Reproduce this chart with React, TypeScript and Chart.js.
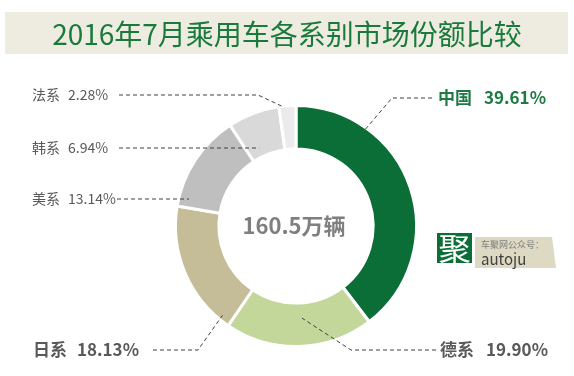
import React, { useEffect, useRef } from "react";
import { Chart, registerables } from "chart.js";

Chart.register(...registerables);

const TITLE = "2016年7月乘用车各系别市场份额比较";
const CATEGORIES = ["中国", "德系", "日系", "美系", "韩系", "法系"];
const SHARES = [39.61, 19.9, 18.13, 13.14, 6.94, 2.28];
const CENTER_TEXT = "160.5万辆";
const COLORS = ["#0b6e37", "#c4d79b", "#c4bd97", "#bfbfbf", "#d9d9d9", "#ebebeb"];

// label layout: text position, leader line elbow, anchor inside slice (t along arc, r fraction across ring)
const LABEL_LAYOUT = [
  { x: 438, y: 98, valueX: 484, bold: true, color: "#1d7a42", lineX: 432, elbowX: 392, t: 0.25, rf: 0.97 },
  { x: 440, y: 350, valueX: 486, bold: true, color: "#595959", lineX: 436, elbowX: 351, t: 0.47, rf: 0.35 },
  { x: 33, y: 350, valueX: 77, bold: true, color: "#595959", lineX: 153, elbowX: 198, t: 0.08, rf: 0.89 },
  { x: 32, y: 199, valueX: 68, bold: false, color: "#595959", lineX: 117, elbowX: null, t: 0.11, rf: 0.77 },
  { x: 32, y: 148, valueX: 68, bold: false, color: "#595959", lineX: 119, elbowX: null, t: 0.31, rf: 0.19 },
  { x: 32, y: 95, valueX: 68, bold: false, color: "#595959", lineX: 119, elbowX: 258, t: 0.32, rf: 0.97 },
];

const FONT = '"Noto Sans CJK SC", "Noto Sans", sans-serif';

const decorPlugin = {
  id: "decor",
  beforeDraw(chart: any) {
    const ctx = chart.ctx;
    ctx.save();
    ctx.fillStyle = "#eeece1";
    ctx.fillRect(5, 12, 563, 42);
    ctx.fillStyle = "#1a7a3c";
    ctx.font = `28px ${FONT}`;
    ctx.textAlign = "center";
    ctx.textBaseline = "middle";
    ctx.fillText(TITLE, 287, 34);
    ctx.restore();
  },
  afterDraw(chart: any) {
    const ctx = chart.ctx;
    const meta = chart.getDatasetMeta(0);
    ctx.save();
    ctx.fillStyle = "#7f7f7f";
    ctx.font = `bold 22px ${FONT}`;
    ctx.textAlign = "center";
    ctx.textBaseline = "middle";
    const a0 = meta.data[0];
    ctx.fillText(CENTER_TEXT, a0.x - 2, a0.y);

    meta.data.forEach((arc: any, i: number) => {
      const L = LABEL_LAYOUT[i];
      const ang = arc.startAngle + (arc.endAngle - arc.startAngle) * L.t;
      const r = arc.innerRadius + (arc.outerRadius - arc.innerRadius) * L.rf;
      const ax = arc.x + Math.cos(ang) * r;
      const ay = arc.y + Math.sin(ang) * r;
      ctx.strokeStyle = "#404040";
      ctx.lineWidth = 1;
      ctx.setLineDash([4, 3]);
      ctx.beginPath();
      ctx.moveTo(L.lineX, L.y);
      if (L.elbowX !== null) {
        ctx.lineTo(L.elbowX, L.y);
        ctx.lineTo(ax, ay);
      } else {
        ctx.lineTo(ax, L.y);
      }
      ctx.stroke();
      ctx.setLineDash([]);
      ctx.fillStyle = L.color;
      ctx.textAlign = "left";
      ctx.textBaseline = "middle";
      ctx.font = L.bold ? `bold 17px ${FONT}` : `14px ${FONT}`;
      ctx.fillText(CATEGORIES[i], L.x, L.y);
      ctx.fillText(SHARES[i].toFixed(2) + "%", L.valueX, L.y);
    });

    ctx.fillStyle = "#0b6e37";
    ctx.fillRect(437, 233, 35, 30);
    ctx.fillStyle = "#ffffff";
    ctx.font = `32px ${FONT}`;
    ctx.textAlign = "center";
    ctx.fillText("聚", 454.5, 249);
    ctx.fillStyle = "#ddd9c3";
    ctx.beginPath();
    ctx.moveTo(475, 237);
    ctx.lineTo(552, 237);
    ctx.lineTo(556, 268);
    ctx.lineTo(475, 268);
    ctx.closePath();
    ctx.fill();
    ctx.textAlign = "left";
    ctx.fillStyle = "#7f7f7f";
    ctx.font = `9px ${FONT}`;
    ctx.fillText("车聚网公众号：", 481, 245);
    ctx.fillStyle = "#404040";
    ctx.font = `15px ${FONT}`;
    ctx.fillText("autoju", 481, 259);
    ctx.restore();
  },
};

export default function App() {
  const ref = useRef<HTMLCanvasElement | null>(null);
  useEffect(() => {
    if (!ref.current) return;
    const chart = new Chart(ref.current, {
      type: "doughnut",
      data: {
        labels: CATEGORIES,
        datasets: [
          {
            data: SHARES,
            backgroundColor: COLORS,
            borderColor: "#ffffff",
            borderWidth: 3,
          },
        ],
      },
      options: {
        responsive: false,
        animation: false,
        events: [],
        cutout: "64%",
        layout: { padding: { top: 104, bottom: 28, left: 174, right: 156 } },
        plugins: { legend: { display: false }, tooltip: { enabled: false }, title: { display: false } },
      },
      plugins: [decorPlugin],
    });
    return () => chart.destroy();
  }, []);
  return (
    <div style={{ position: "absolute", left: 0, top: 0, width: 574, height: 376, background: "#fff" }}>
      <canvas ref={ref} width={574} height={376} style={{ width: 574, height: 376, display: "block" }} />
    </div>
  );
}
